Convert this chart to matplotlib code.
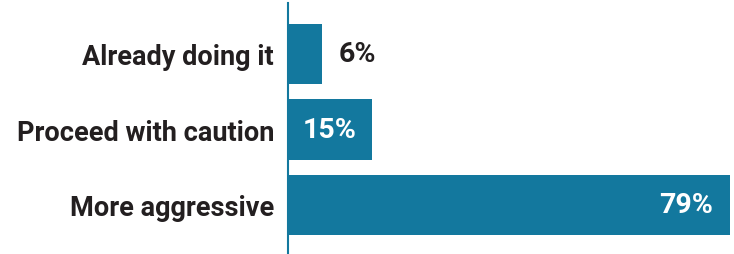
import matplotlib.pyplot as plt

# Survey answers, top to bottom
labels = ['Already doing it', 'Proceed with caution', 'More aggressive']
values = [6, 15, 79]

blue = '#13789e'
dark = '#231f20'

plt.rcParams['font.family'] = ['Roboto', 'DejaVu Sans']

fig = plt.figure(figsize=(7.34, 2.55), dpi=100)
ax = fig.add_axes([288 / 734, 0, 1 - 288 / 734, 251 / 255])

pos = range(len(values))
ax.barh(pos, values, height=0.8, color=blue)

ax.set_xlim(0, 79.7)
ax.set_ylim(2.649, -0.675)

ax.set_yticks(list(pos))
ax.set_yticklabels(labels, fontsize=19.5, fontweight='bold', color=dark)
ax.tick_params(axis='y', length=0, pad=10)
ax.set_xticks([])

for s in ['top', 'right', 'bottom']:
    ax.spines[s].set_visible(False)
ax.spines['left'].set_color(blue)
ax.spines['left'].set_linewidth(1.5)

# value labels: outside, centred, right-aligned
ax.text(values[0] + 3.0, 0, f'{values[0]}%', va='center', ha='left',
        fontsize=20.5, fontweight='bold', color=dark)
ax.text(values[1] / 2, 1, f'{values[1]}%', va='center', ha='center',
        fontsize=20.5, fontweight='bold', color='white')
ax.text(values[2] - 3.0, 2, f'{values[2]}%', va='center', ha='right',
        fontsize=20.5, fontweight='bold', color='white')

plt.savefig('out.png', dpi=100)
